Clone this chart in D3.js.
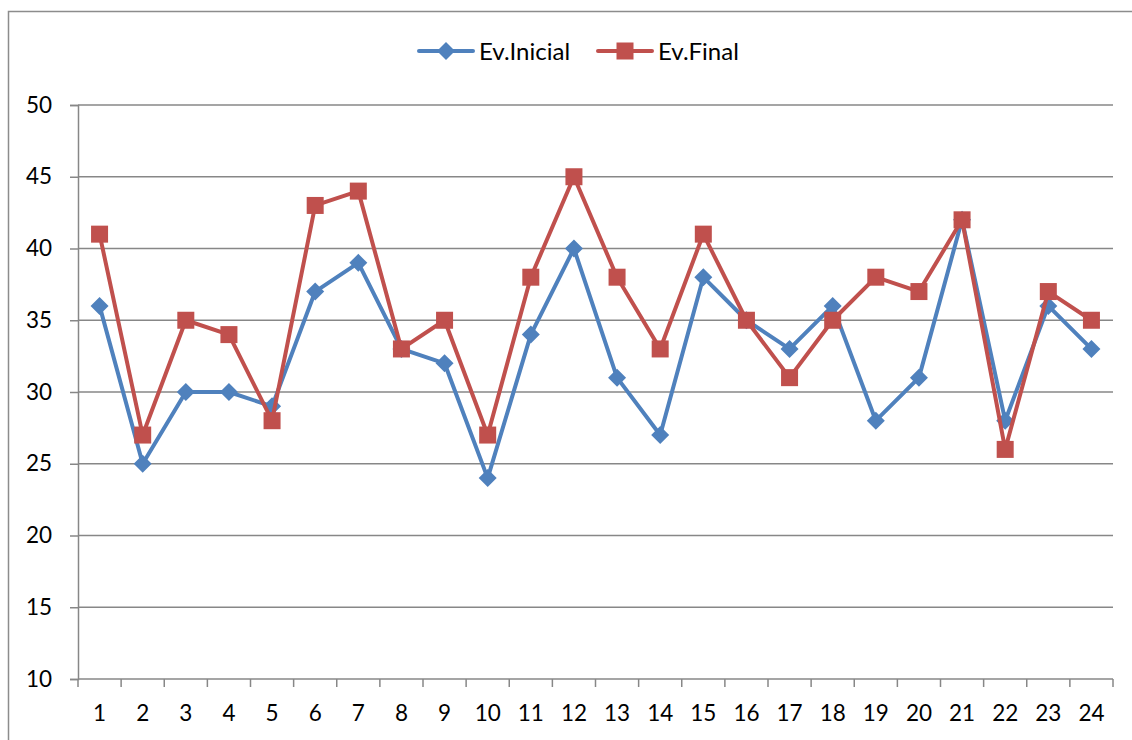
<!DOCTYPE html>
<html>
<head>
<meta charset="utf-8">
<script src="https://cdn.jsdelivr.net/npm/d3@7"></script>
<style>
  html, body { margin: 0; padding: 0; background: #fff; }
  svg { display: block; font-family: Lato, "Open Sans", "Liberation Sans", sans-serif; }
</style>
</head>
<body>
<svg id="chart" width="1132" height="740"></svg>
<script>
// Evaluation scores per participant
const categories = d3.range(1, 25).map(String);
const evInicial = [36, 25, 30, 30, 29, 37, 39, 33, 32, 24, 34, 40, 31, 27, 38, 35, 33, 36, 28, 31, 42, 28, 36, 33];
const evFinal   = [41, 27, 35, 34, 28, 43, 44, 33, 35, 27, 38, 45, 38, 33, 41, 35, 31, 35, 38, 37, 42, 26, 37, 35];
const yTicks = [10, 15, 20, 25, 30, 35, 40, 45, 50];

const series = [
  { name: "Ev.Inicial", values: evInicial, color: "#4F81BD", marker: "diamond" },
  { name: "Ev.Final",   values: evFinal,   color: "#C0504D", marker: "square" }
];

const svg = d3.select("#chart");
const margin = { left: 78, right: 19, top: 105, bottom: 61 };
const W = 1132, H = 740;
const fontSize = 22.5;
const legendFontSize = 24;

// Outer chart frame
svg.append("rect")
  .attr("x", 8.5).attr("y", 11.5)
  .attr("width", 1140).attr("height", 760)
  .attr("fill", "none").attr("stroke", "#8c8c8c").attr("stroke-width", 1.5);

const x = d3.scaleBand().domain(categories)
  .range([margin.left, W - margin.right]).padding(0);
const y = d3.scaleLinear().domain([10, 50])
  .range([H - margin.bottom, margin.top]);

const gridColor = "#878787";

// Horizontal gridlines
svg.append("g").selectAll("line").data(yTicks.filter(t => t > 10)).join("line")
  .attr("x1", margin.left).attr("x2", W - margin.right)
  .attr("y1", d => y(d)).attr("y2", d => y(d))
  .attr("stroke", gridColor).attr("stroke-width", 1.5);

// Y axis
const yAxis = svg.append("g")
  .attr("transform", `translate(${margin.left},0)`)
  .call(d3.axisLeft(y).tickValues(yTicks).tickSize(8).tickPadding(18).tickFormat(d3.format("d")));
yAxis.select(".domain").attr("stroke", gridColor).attr("stroke-width", 1.5);
yAxis.selectAll(".tick line").attr("stroke", gridColor).attr("stroke-width", 1.5);
yAxis.selectAll("text").attr("font-size", fontSize).attr("fill", "#000")
  .attr("font-family", "Lato, 'Open Sans', sans-serif");

// X axis with ticks between categories
const xAxisG = svg.append("g")
  .attr("transform", `translate(0,${y(10)})`);
xAxisG.append("line")
  .attr("x1", margin.left).attr("x2", W - margin.right)
  .attr("stroke", gridColor).attr("stroke-width", 1.5);
const boundaries = categories.map(c => x(c)).concat([x(categories[categories.length - 1]) + x.bandwidth()]);
xAxisG.selectAll("line.tk").data(boundaries).join("line")
  .attr("class", "tk")
  .attr("x1", d => d).attr("x2", d => d)
  .attr("y1", 0).attr("y2", 8)
  .attr("stroke", gridColor).attr("stroke-width", 1.5);
xAxisG.selectAll("text").data(categories).join("text")
  .attr("x", d => x(d) + x.bandwidth() / 2)
  .attr("y", 42)
  .attr("text-anchor", "middle")
  .attr("font-size", fontSize).attr("fill", "#000")
  .text(d => d);

// Lines and markers
const line = d3.line()
  .x((d, i) => x(categories[i]) + x.bandwidth() / 2)
  .y(d => y(d));

function drawMarker(g, type, color) {
  if (type === "diamond") {
    g.append("path").attr("d", "M0,-9 L9,0 L0,9 L-9,0 Z").attr("fill", color);
  } else {
    g.append("rect").attr("x", -8.5).attr("y", -8.5).attr("width", 17).attr("height", 17).attr("fill", color);
  }
}

series.forEach(s => {
  svg.append("path")
    .datum(s.values)
    .attr("d", line)
    .attr("fill", "none")
    .attr("stroke", s.color)
    .attr("stroke-width", 4)
    .attr("stroke-linejoin", "round");
  s.values.forEach((v, i) => {
    const g = svg.append("g")
      .attr("transform", `translate(${x(categories[i]) + x.bandwidth() / 2},${y(v)})`);
    drawMarker(g, s.marker, s.color);
  });
});

// Legend
const legendItems = [
  { s: series[0], x0: 419 },
  { s: series[1], x0: 598 }
];
legendItems.forEach(({ s, x0 }) => {
  const g = svg.append("g").attr("transform", `translate(${x0},51)`);
  g.append("line").attr("x1", 0).attr("x2", 54).attr("stroke", s.color)
    .attr("stroke-width", 4).attr("stroke-linecap", "round");
  const m = g.append("g").attr("transform", "translate(27,0)");
  drawMarker(m, s.marker, s.color);
  g.append("text").attr("x", 60).attr("y", 8.5).attr("font-size", legendFontSize).attr("fill", "#000").text(s.name);
});
</script>
</body>
</html>
